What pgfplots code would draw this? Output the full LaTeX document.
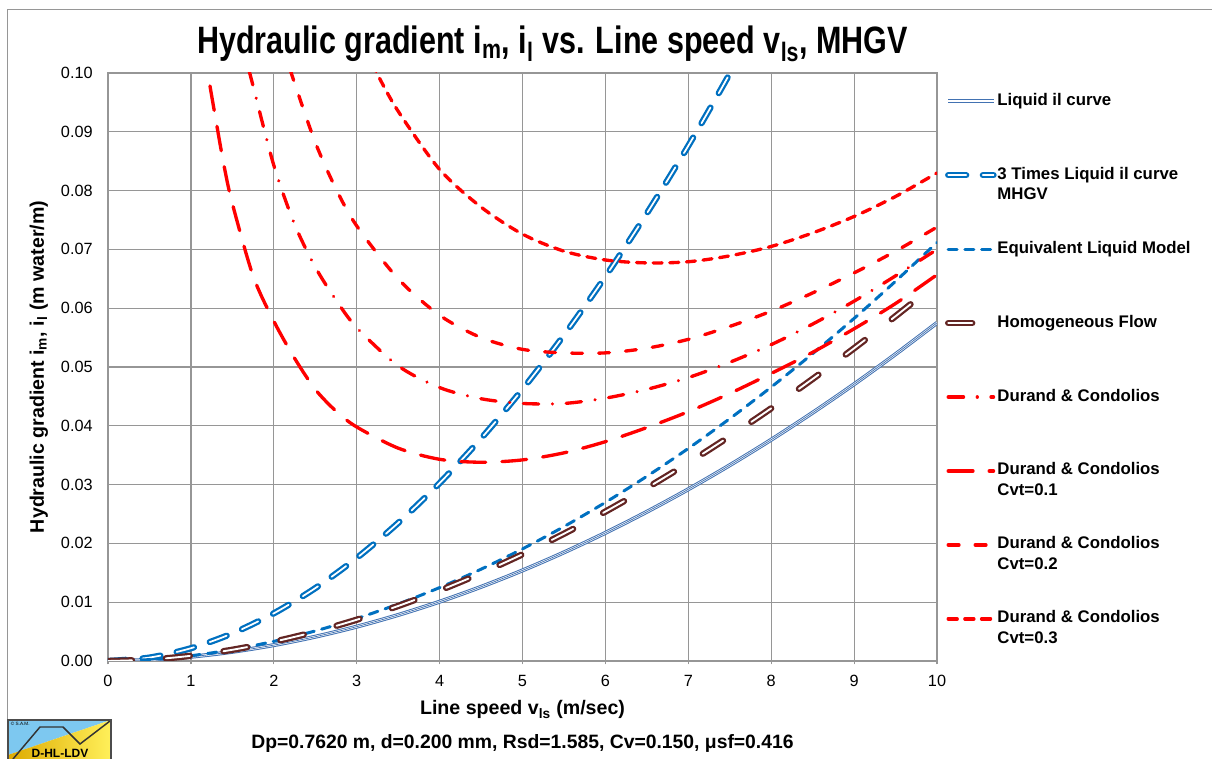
\documentclass[border=0pt]{standalone}
\usepackage{fontspec}
\setmainfont{Liberation Sans}
\newfontfamily\narrowfont[FakeStretch=0.8]{Liberation Sans}
\usepackage{pgfplots}
\pgfplotsset{compat=1.18}
\usepackage{pgfplotstable}

\definecolor{gridgray}{RGB}{150,150,150}
\definecolor{liqblue}{RGB}{66,114,178}
\definecolor{mblue}{RGB}{0,112,192}
\definecolor{hbrown}{RGB}{99,37,35}
\definecolor{logoblue}{RGB}{125,200,240}
\definecolor{logogold}{RGB}{222,170,0}
\definecolor{logoyellow}{RGB}{255,240,90}

% v, liquid il, equivalent liquid model, homogeneous flow
\pgfplotstableread{
v    il        elm       hom
0    0         0         0
0.5  0.000194  0.000240  0.000239
1    0.000724  0.000896  0.000887
1.5  0.001564  0.001936  0.001908
2    0.002702  0.003344  0.003280
2.5  0.004129  0.005111  0.004987
3    0.005838  0.007226  0.007016
3.5  0.007826  0.009687  0.009358
4    0.010085  0.012483  0.011999
4.5  0.012612  0.015611  0.014930
5    0.015407  0.019070  0.018146
5.5  0.018469  0.022860  0.021642
6    0.021792  0.026973  0.025405
6.5  0.025376  0.031409  0.029431
7    0.029206  0.036150  0.033698
7.5  0.033297  0.041213  0.038218
8    0.037634  0.046582  0.042971
8.5  0.042231  0.052272  0.047966
9    0.047074  0.058266  0.053184
9.5  0.052179  0.064585  0.058639
10   0.057507  0.071179  0.064281
}\liquid

% 3 times liquid il curve (MHGV)
\pgfplotstableread{
v    i
0    0
0.5  0.000582
1    0.002172
1.5  0.004692
2    0.008106
2.5  0.012387
3    0.017514
3.5  0.023478
4    0.030255
4.5  0.037836
5    0.046221
5.5  0.055407
6    0.065376
6.5  0.076128
7    0.087618
7.5  0.099891
8    0.112902
}\threeil

% Durand & Condolios (Cv=0.15)
\pgfplotstableread{
v    i
1.70 0.1005
1.75 0.0978
2.00 0.0843
2.25 0.0743
2.50 0.0670
2.75 0.0614
3.00 0.0567
3.50 0.0502
4.00 0.0465
4.50 0.0446
5.00 0.0438
5.50 0.0438
6.00 0.0447
6.50 0.0462
7.00 0.0482
7.50 0.0508
8.00 0.0538
8.50 0.0573
9.00 0.0612
9.50 0.0655
10.0 0.0700
}\dcmain

% Durand & Condolios Cvt=0.1
\pgfplotstableread{
v    i
1.23 0.0978
1.30 0.0921
1.40 0.0842
1.50 0.0778
1.75 0.0655
2.00 0.0578
2.25 0.0515
2.50 0.0462
2.75 0.0425
3.00 0.0398
3.50 0.0362
4.00 0.0343
4.50 0.0338
5.00 0.0342
5.50 0.0354
6.00 0.0373
6.50 0.0397
7.00 0.0424
7.50 0.0455
8.00 0.0489
8.50 0.0525
9.00 0.0565
9.50 0.0608
10.0 0.0657
}\dcone

% Durand & Condolios Cvt=0.2
\pgfplotstableread{
v    i
2.20 0.1005
2.25 0.0983
2.50 0.0882
2.75 0.0803
3.00 0.0740
3.50 0.0650
4.00 0.0588
4.50 0.0550
5.00 0.0530
5.50 0.0524
6.00 0.0524
6.50 0.0532
7.00 0.0547
7.50 0.0569
8.00 0.0595
8.50 0.0626
9.00 0.0660
9.50 0.0697
10.0 0.0738
}\dctwo

% Durand & Condolios Cvt=0.3
\pgfplotstableread{
v    i
3.20 0.1017
3.25 0.0998
3.50 0.0935
4.00 0.0836
4.50 0.0772
5.00 0.0726
5.50 0.0697
6.00 0.0682
6.50 0.0677
7.00 0.0679
7.50 0.0689
8.00 0.0705
8.50 0.0728
9.00 0.0756
9.50 0.0790
10.0 0.0830
}\dcthree

\begin{document}
\begin{tikzpicture}
\useasboundingbox (-81pt,-73.5pt) rectangle (828pt,495.75pt);
\begin{axis}[
    at={(0pt,0pt)}, anchor=south west,
    scale only axis, width=621.75pt, height=441pt,
    xmin=0, xmax=10, ymin=0, ymax=0.1,
    xtick={0,1,2,3,4,5,6,7,8,9,10},
    ytick={0,0.01,0.02,0.03,0.04,0.05,0.06,0.07,0.08,0.09,0.1},
    scaled y ticks=false,
    grid=major,
    major grid style={draw=gridgray, line width=0.9pt},
    axis line style={draw=gridgray, line width=0.9pt},
    xtick style={draw=gridgray, line width=0.9pt},
    ytick style={draw=none},
    xtick pos=bottom, tick align=outside, major tick length=2.5pt,
    /pgf/number format/assume math mode=true,
    tick label style={font=\fontsize{12.2}{14}\selectfont},
    yticklabel style={/pgf/number format/.cd, fixed, fixed zerofill, precision=2, /tikz/.cd, xshift=-5.5pt},
    xticklabel style={yshift=-4.5pt},
    title={Hydraulic gradient i\textsubscript{m}, i\textsubscript{l} vs. Line speed v\textsubscript{ls}, MHGV},
    title style={at={(axis description cs:0.5362,1.0187)}, anchor=base,
        font=\narrowfont\bfseries\fontsize{28.6}{34}\selectfont},
    xlabel={Line speed v\textsubscript{ls} (m/sec)},
    ylabel={Hydraulic gradient i\textsubscript{m}, i\textsubscript{l} (m water/m)},
    every axis x label/.style={at={(axis description cs:0.5,-0.0918)}, anchor=base,
        font=\bfseries\fontsize{14.7}{17}\selectfont},
    every axis y label/.style={at={(axis description cs:-0.0775,0.5)}, anchor=base, rotate=90,
        font=\bfseries\fontsize{14.7}{17}\selectfont},
    legend image code/.code={\draw[#1] (1pt,0.3em) -- (35pt,0.3em);},
    legend style={at={(1.00965,0.9678)}, anchor=north west, draw=none, fill=none,
        inner sep=0pt, outer sep=0pt, row sep=28.46pt, column sep=0.5pt,
        font=\bfseries\fontsize{12.6}{15.4}\selectfont,
        cells={anchor=base west},
        nodes={inner sep=0pt, text height=10pt, text depth=17pt}},
]
\addplot[liqblue, line width=0.75pt, double=white, double distance=1.5pt, smooth]
    table[x=v, y=il] {\liquid};
\addlegendentry{Liquid il curve}
\addplot[liqblue, line width=0.55pt, smooth, forget plot]
    table[x=v, y=il] {\liquid};

\addplot[mblue, line width=1.7pt, double=white, double distance=1.3pt, line cap=round,
    dash pattern=on 13.5pt off 12.5pt, smooth]
    table[x=v, y=i] {\threeil};
\addlegendentry{\vtop{\hbox{3 Times Liquid il curve}\hbox{MHGV}}}

\addplot[mblue, line width=2.25pt, line cap=round, dash pattern=on 6.75pt off 5.75pt, smooth]
    table[x=v, y=elm] {\liquid};
\addlegendentry{Equivalent Liquid Model}

\addplot[hbrown, line width=1.7pt, double=white, double distance=1.4pt, line cap=round,
    dash pattern=on 18pt off 25.5pt, smooth]
    table[x=v, y=hom] {\liquid};
\addlegendentry{Homogeneous Flow}

\addplot[red, line width=2.5pt, line cap=round,
    dash pattern=on 11.5pt off 10.3pt on 0.01pt off 10.3pt, smooth]
    table[x=v, y=i] {\dcmain};
\addlegendentry{Durand \& Condolios}

\addplot[red, line width=2.5pt, line cap=round, dash pattern=on 18.6pt off 12.15pt, smooth]
    table[x=v, y=i] {\dcone};
\addlegendentry{\vtop{\hbox{Durand \& Condolios}\hbox{Cvt=0.1}}}

\addplot[red, line width=2.5pt, line cap=round, dash pattern=on 8.1pt off 12.15pt, smooth]
    table[x=v, y=i] {\dctwo};
\addlegendentry{\vtop{\hbox{Durand \& Condolios}\hbox{Cvt=0.2}}}

\addplot[red, line width=2.5pt, line cap=round, dash pattern=on 6.75pt off 5.75pt, smooth]
    table[x=v, y=i] {\dcthree};
\addlegendentry{\vtop{\hbox{Durand \& Condolios}\hbox{Cvt=0.3}}}
\end{axis}

% chart area border
\draw[gridgray, line width=0.75pt] (-75.4pt,-80pt) -- (-75.4pt,488.8pt) -- (835pt,488.8pt);

% footer
\node[anchor=base, font=\bfseries\fontsize{14.5}{17}\selectfont] at (310.9pt,-65.6pt)
    {Dp=0.7620 m, d=0.200 mm, Rsd=1.585, Cv=0.150, μsf=0.416};

% logo
\fill[logoblue] (-75pt,-44.25pt) -- (2.25pt,-44.25pt) -- (-75pt,-70.5pt) -- cycle;
\shade[left color=logogold, right color=logoyellow]
    (-75pt,-70.5pt) -- (2.25pt,-44.25pt) -- (2.25pt,-80pt) -- (-75pt,-80pt) -- cycle;
\draw[black!80, line width=1.1pt] (-71.25pt,-73.5pt) -- (-51pt,-49.5pt) -- (-33.75pt,-49.5pt)
    -- (-21pt,-62.25pt) -- (1.5pt,-45pt);
\draw[black!70, line width=0.8pt] (-75pt,-80pt) rectangle (2.25pt,-44.25pt);
\node[anchor=west, font=\fontsize{3.5}{4}\selectfont, inner sep=0pt] at (-73pt,-47.5pt) {© S.A.M.};
\node[font=\bfseries\fontsize{9}{10}\selectfont, inner sep=0pt] at (-36pt,-69pt) {D-HL-LDV};
\end{tikzpicture}
\end{document}
